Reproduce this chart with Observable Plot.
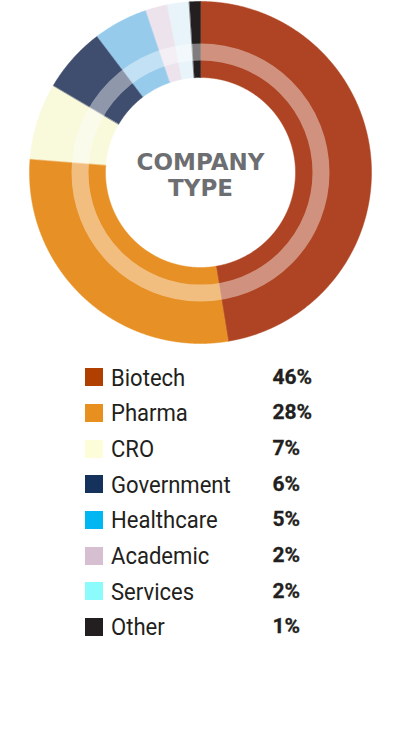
<!DOCTYPE html>
<html>
<head>
<meta charset="utf-8">
<script src="https://cdn.jsdelivr.net/npm/d3@7"></script>
<script src="https://cdn.jsdelivr.net/npm/@observablehq/plot@0.6"></script>
<style>
  html, body { margin: 0; padding: 0; background: #ffffff; }
  #chart svg { display: block; }
  #legend { margin-top: 15.5px; }
  .row { position: relative; height: 35.7px; }
  .sw { position: absolute; left: 85px; top: 8.85px; width: 18px; height: 18px; }
  .lab { position: absolute; left: 111px; top: 0; line-height: 35.7px; font-family: Roboto, sans-serif; font-size: 24.5px; color: #231f20; white-space: nowrap; transform: scaleX(0.9); transform-origin: 0 50%; }
  .pct { position: absolute; left: 272.5px; top: 0; line-height: 35.7px; font-family: Roboto, sans-serif; font-weight: 700; font-size: 21px; color: #231f20; white-space: nowrap; -webkit-text-stroke: 0.3px #231f20; }
</style>
</head>
<body>
<div id="chart"></div>
<div id="legend"></div>
<script>
const categories = ["Biotech", "Pharma", "CRO", "Government", "Healthcare", "Academic", "Services", "Other"];
const shares = [46, 28, 7, 6, 5, 2, 2, 1];
const donutColors = ["#ae4423", "#e79025", "#f9f9dc", "#3f4d6e", "#96cbec", "#ede3ec", "#e9f4fa", "#231f20"];
const legendColors = ["#b03f00", "#e79020", "#fdfdd9", "#15325c", "#00b7f1", "#d5bfd0", "#8bfcfb", "#231f20"];
const centerTitle = ["COMPANY", "TYPE"];

const R_OUT = 171, R_IN = 95, RING_R = 120.5, RING_W = 17;

const arcs = d3.pie().sort(null).value(d => d)(shares);
const pts = [];
arcs.forEach((a, i) => {
  const cat = categories[i];
  const n = Math.max(2, Math.ceil((a.endAngle - a.startAngle) / 0.005));
  for (let k = 0; k <= n; k++) {
    const t = a.startAngle + (a.endAngle - a.startAngle) * k / n;
    pts.push({cat, x: R_OUT * Math.sin(t), y: R_OUT * Math.cos(t)});
  }
  for (let k = n; k >= 0; k--) {
    const t = a.startAngle + (a.endAngle - a.startAngle) * k / n;
    pts.push({cat, x: R_IN * Math.sin(t), y: R_IN * Math.cos(t)});
  }
});

const chart = Plot.plot({
  width: 400,
  height: 344,
  margin: 0,
  x: {domain: [-200, 200], axis: null},
  y: {domain: [-172, 172], axis: null},
  color: {domain: categories, range: donutColors},
  style: {background: "white", overflow: "visible"},
  marks: [
    Plot.line(pts, {x: "x", y: "y", z: "cat", fill: "cat", stroke: "cat", strokeWidth: 0.5, curve: "linear-closed"}),
    Plot.dot([{x: 0, y: 0}], {x: "x", y: "y", r: RING_R, fill: "none", stroke: "white", strokeWidth: RING_W, strokeOpacity: 0.42}),
    Plot.text([centerTitle.join("\n")], {
      text: d => d, frameAnchor: "middle", dy: 2,
      fontFamily: "DejaVu Sans", fontWeight: "bold", fontSize: 23, lineHeight: 1.13,
      fill: "#6d6e71"
    })
  ]
});
document.getElementById("chart").appendChild(chart);

const legend = document.getElementById("legend");
categories.forEach((c, i) => {
  const row = document.createElement("div");
  row.className = "row";
  const sw = document.createElement("div");
  sw.className = "sw";
  sw.style.background = legendColors[i];
  const lab = document.createElement("div");
  lab.className = "lab";
  lab.textContent = c;
  const pct = document.createElement("div");
  pct.className = "pct";
  pct.textContent = shares[i] + "%";
  row.append(sw, lab, pct);
  legend.appendChild(row);
});
</script>
</body>
</html>
